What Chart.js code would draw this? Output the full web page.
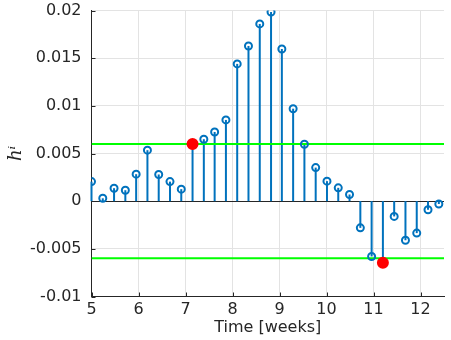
<!DOCTYPE html>
<html>
<head>
<meta charset="utf-8">
<script src="https://cdn.jsdelivr.net/npm/chart.js@4.4.0/dist/chart.umd.min.js"></script>
<style>
  html, body { margin: 0; padding: 0; background: #fff; }
  #wrap { width: 451px; height: 340px; }
</style>
</head>
<body>
<div id="wrap"><canvas id="stemChart" width="451" height="340"></canvas></div>
<script>
// Sample times (weeks) and coefficient values h^i
const times = [5.00, 5.24, 5.48, 5.72, 5.95, 6.19, 6.43, 6.67, 6.91, 7.15, 7.39, 7.62, 7.86, 8.10, 8.34, 8.58,
               8.82, 9.05, 9.29, 9.53, 9.77, 10.01, 10.25, 10.49, 10.72, 10.96, 11.20, 11.44, 11.68, 11.92, 12.16, 12.39];
const hValues = [0.00205, 0.0003, 0.00136, 0.00115, 0.00283, 0.00535, 0.0028, 0.00205, 0.00126, 0.0060, 0.0065, 0.00726,
                 0.00852, 0.0144, 0.01628, 0.01859, 0.01984, 0.01596, 0.0097, 0.00597, 0.00352, 0.0021, 0.0014, 0.0007,
                 -0.0028, -0.0058, -0.00647, -0.0016, -0.0041, -0.00335, -0.0009, -0.0003];

// Highlighted points (red)
const markedTimes = [7.15, 11.20];
const markedValues = [0.0060, -0.00647];

// Threshold lines (green)
const thresholds = [0.006, -0.006];

// Axes
const xRange = [5, 12.5];
const yRange = [-0.01, 0.02];
const xTicks = [5, 6, 7, 8, 9, 10, 11, 12];
const yTicks = [-0.01, -0.005, 0, 0.005, 0.01, 0.015, 0.02];
const yTickLabels = ['-0.01', '-0.005', '0', '0.005', '0.01', '0.015', '0.02'];

const BLUE = '#0072BD';
const AXIS = '#262626';

// Stems from zero to each point, plus inward tick marks
const stemPlugin = {
    id: 'stems',
    beforeDatasetsDraw(chart) {
        const ctx = chart.ctx;
        const xs = chart.scales.x;
        const ys = chart.scales.y;
        const area = chart.chartArea;

        ctx.save();
        // tick marks
        ctx.strokeStyle = AXIS;
        ctx.lineWidth = 1;
        xTicks.forEach(v => {
            const px = Math.round(xs.getPixelForValue(v)) + 0.5;
            ctx.beginPath();
            ctx.moveTo(px, area.bottom);
            ctx.lineTo(px, area.bottom - 4);
            ctx.stroke();
        });
        yTicks.forEach(v => {
            const py = Math.round(ys.getPixelForValue(v)) + 0.5;
            ctx.beginPath();
            ctx.moveTo(area.left, py);
            ctx.lineTo(area.left + 4, py);
            ctx.stroke();
        });

        // stems
        const meta = chart.getDatasetMeta(1);
        const y0 = ys.getPixelForValue(0);
        ctx.strokeStyle = BLUE;
        ctx.lineWidth = 2;
        meta.data.forEach(pt => {
            ctx.beginPath();
            ctx.moveTo(pt.x, y0);
            ctx.lineTo(pt.x, pt.y);
            ctx.stroke();
        });
        ctx.restore();
    }
};

const stemPoints = times.map((t, i) => ({ x: t, y: hValues[i] }));
const markedPoints = markedTimes.map((t, i) => ({ x: t, y: markedValues[i] }));

const thresholdSets = thresholds.map(v => ({
    type: 'line',
    data: [{ x: xRange[0], y: v }, { x: xRange[1], y: v }],
    borderColor: '#00FF00',
    borderWidth: 2,
    pointRadius: 0,
    fill: false,
    order: 2
}));

new Chart(document.getElementById('stemChart'), {
    type: 'scatter',
    data: {
        datasets: [
            {
                data: markedPoints,
                pointRadius: 5,
                pointBorderWidth: 2,
                pointBackgroundColor: '#FF0000',
                pointBorderColor: '#FF0000',
                order: 0
            },
            {
                data: stemPoints,
                pointRadius: 3.5,
                pointBorderWidth: 2,
                pointBackgroundColor: 'rgba(0,0,0,0)',
                pointBorderColor: BLUE,
                order: 1
            },
            ...thresholdSets
        ]
    },
    options: {
        responsive: false,
        animation: false,
        layout: { padding: { top: 10.5, right: 4, left: 0, bottom: 0 } },
        plugins: {
            legend: { display: false },
            tooltip: { enabled: false }
        },
        scales: {
            x: {
                type: 'linear',
                min: xRange[0],
                max: xRange[1],
                afterBuildTicks: scale => { scale.ticks = xTicks.map(v => ({ value: v })); },
                afterFit: scale => {
                    scale.height = 43.5;
                    scale.paddingLeft = 0;
                    scale.paddingRight = 0;
                },
                grid: { color: '#E3E3E3', drawTicks: false },
                border: { color: AXIS, width: 1 },
                ticks: {
                    autoSkip: false,
                    maxRotation: 0,
                    padding: 4,
                    color: AXIS,
                    font: { family: 'DejaVu Sans', size: 16 }
                },
                title: {
                    display: true,
                    text: 'Time [weeks]',
                    color: AXIS,
                    padding: { top: 0, bottom: 3 },
                    font: { family: 'DejaVu Sans', size: 16 }
                }
            },
            y: {
                type: 'linear',
                min: yRange[0],
                max: yRange[1],
                afterBuildTicks: scale => { scale.ticks = yTicks.map(v => ({ value: v })); },
                afterFit: scale => {
                    scale.width = 91.5;
                    scale.paddingTop = 0;
                    scale.paddingBottom = 0;
                },
                grid: {
                    drawTicks: false,
                    color: ctx => (ctx.tick && ctx.tick.value === 0 ? AXIS : '#E3E3E3')
                },
                border: { color: AXIS, width: 1 },
                ticks: {
                    padding: 10,
                    color: AXIS,
                    font: { family: 'DejaVu Sans', size: 16 },
                    callback: (v, i) => yTickLabels[i]
                },
                title: {
                    display: true,
                    text: 'hⁱ',
                    color: AXIS,
                    padding: { top: 6, bottom: 0 },
                    font: { family: 'DejaVu Serif', size: 18, style: 'italic' }
                }
            }
        }
    },
    plugins: [stemPlugin]
});
</script>
</body>
</html>
